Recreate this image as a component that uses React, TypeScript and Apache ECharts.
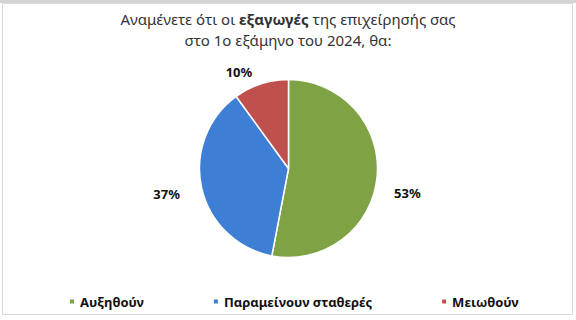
import React, { useEffect, useRef } from "react";
import * as echarts from "echarts";

const categories = ["Αυξηθούν", "Παραμείνουν σταθερές", "Μειωθούν"];
const values = [53, 37, 10];
const colors = ["#7FA344", "#3E7FD5", "#C0504D"];
const titleLines = ["Αναμένετε ότι οι {b|εξαγωγές} της επιχείρησής σας", "στο 1ο εξάμηνο του 2024, θα:"];
const labelNudge = [
  [0, 15],
  [-5, 3],
  [0, 0],
];

const FONT = "'Noto Sans', 'DejaVu Sans', sans-serif";

export default function App() {
  const ref = useRef<HTMLDivElement>(null);
  useEffect(() => {
    if (!ref.current) return;
    const chart = echarts.init(ref.current, null, { renderer: "svg" });
    const titleStyle = {
      fontFamily: FONT,
      fontSize: 15,
      fontWeight: "normal",
      color: "#333333",
      rich: {
        b: { fontFamily: FONT, fontSize: 15, fontWeight: "bold", color: "#333333" },
      },
    };
    chart.setOption({
      animation: false,
      backgroundColor: "#ffffff",
      graphic: [
        {
          type: "rect",
          shape: { x: 2.5, y: 3.5, width: 570, height: 311 },
          style: { fill: "none", stroke: "#d9d9d9", lineWidth: 1 },
          silent: true,
        },
        {
          type: "rect",
          shape: { x: 0, y: 0, width: 576, height: 3 },
          style: { fill: "#d4d4d4" },
          silent: true,
        },
      ],
      title: titleLines.map((t, i) => ({
        text: t,
        left: "center",
        top: 11 + i * 21,
        padding: 0,
        textStyle: titleStyle,
      })),
      legend: {
        data: categories,
        top: 290,
        left: 63,
        icon: "rect",
        itemWidth: 6,
        itemHeight: 6,
        itemGap: 68,
        textStyle: { fontFamily: FONT, fontSize: 13, fontWeight: "bold", color: "#111111" },
      },
      series: [
        {
          type: "pie",
          center: [288.5, 168.5],
          radius: 89,
          startAngle: 90,
          clockwise: true,
          avoidLabelOverlap: false,
          itemStyle: { borderColor: "#ffffff", borderWidth: 1.5 },
          label: {
            show: true,
            position: "outside",
            formatter: "{c}%",
            fontFamily: FONT,
            fontSize: 13,
            fontWeight: "bold",
            color: "#111111",
          },
          labelLine: { show: false, length: 12, length2: 0 },
          labelLayout: (p: any) => {
            const n = labelNudge[p.dataIndex] || [0, 0];
            return { dx: n[0], dy: n[1] };
          },
          emphasis: { disabled: true },
          data: categories.map((name, i) => ({ name, value: values[i], itemStyle: { color: colors[i] } })),
        },
      ],
    });
    return () => chart.dispose();
  }, []);
  return <div ref={ref} style={{ position: "fixed", left: 0, top: 0, width: 576, height: 320 }} />;
}
